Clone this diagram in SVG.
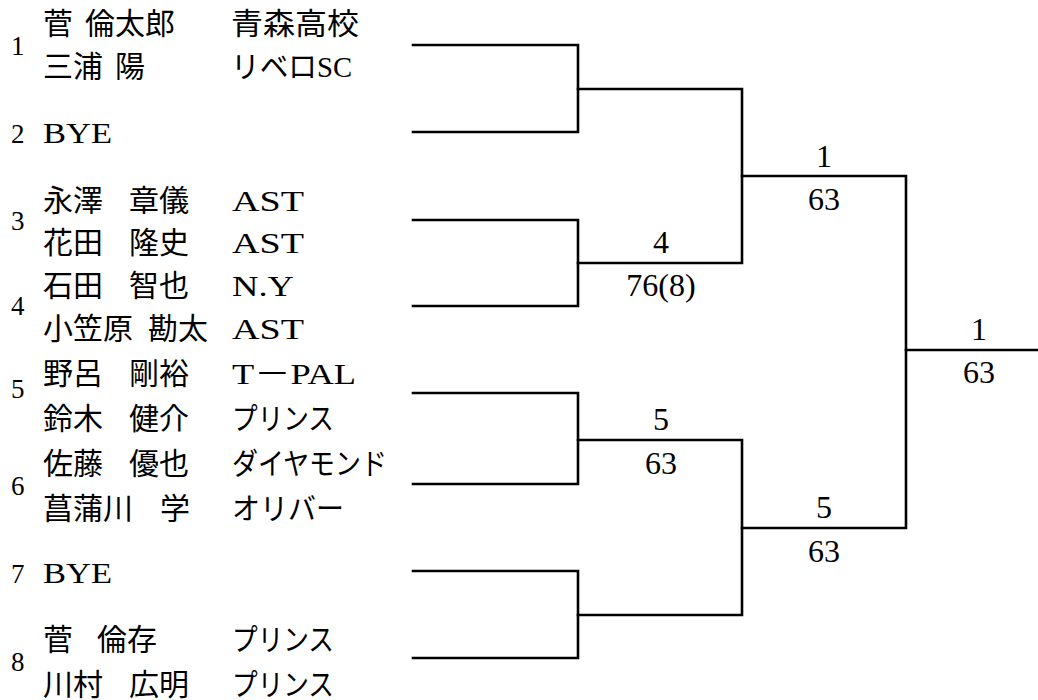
<svg xmlns="http://www.w3.org/2000/svg" width="1038" height="700" viewBox="0 0 1038 700">
<style>
text{font-family:"Liberation Serif","Noto Sans CJK JP",serif;fill:#000}
.n{font-size:27px}
.j{font-size:30px}
.s{font-size:32px;text-anchor:middle}
.c{fill:none;stroke:#000;stroke-width:2.6;stroke-linecap:square}
</style>
<rect width="1038" height="700" fill="#fff"/>
<g id="connectors" class="c">
<path d="M413 45H578V132H413"/>
<path d="M413 220H578V306H413"/>
<path d="M413 393H578V484H413"/>
<path d="M413 571H578V658H413"/>
<path d="M578 89H742V263H578"/>
<path d="M578 440H742V615H578"/>
<path d="M742 176H906V528H742"/>
<path d="M906 350H1038"/>
</g>
<g id="entry1">
<text class="n" x="11" y="55">1</text>
<text class="j" x="43" y="34">菅</text><text class="j" x="85" y="34">倫太郎</text><text class="j" x="231" y="34" textLength="128" lengthAdjust="spacingAndGlyphs">青森高校</text>
<text class="j" x="43" y="77">三浦</text><text class="j" x="115" y="77">陽</text><text class="j" x="231" y="77" textLength="121" lengthAdjust="spacingAndGlyphs">リベロSC</text>
</g>
<g id="entry2">
<text class="n" x="11" y="143">2</text>
<text class="j" x="43" y="143" textLength="69" lengthAdjust="spacingAndGlyphs">BYE</text>
</g>
<g id="entry3">
<text class="n" x="11" y="230">3</text>
<text class="j" x="43" y="211">永澤</text><text class="j" x="129" y="211">章儀</text><text class="j" x="232" y="211" textLength="72" lengthAdjust="spacingAndGlyphs">AST</text>
<text class="j" x="43" y="253">花田</text><text class="j" x="129" y="253">隆史</text><text class="j" x="232" y="253" textLength="72" lengthAdjust="spacingAndGlyphs">AST</text>
</g>
<g id="entry4">
<text class="n" x="11" y="315">4</text>
<text class="j" x="43" y="296">石田</text><text class="j" x="129" y="296">智也</text><text class="j" x="232" y="296" textLength="62" lengthAdjust="spacingAndGlyphs">N.Y</text>
<text class="j" x="43" y="339">小笠原</text><text class="j" x="148" y="339">勘太</text><text class="j" x="232" y="339" textLength="72" lengthAdjust="spacingAndGlyphs">AST</text>
</g>
<g id="entry5">
<text class="n" x="11" y="398">5</text>
<text class="j" x="43" y="384">野呂</text><text class="j" x="129" y="384">剛裕</text><text class="j" x="232" y="384" textLength="124" lengthAdjust="spacingAndGlyphs">T－PAL</text>
<text class="j" x="43" y="429">鈴木</text><text class="j" x="129" y="429">健介</text><text class="j" x="232" y="429" textLength="102" lengthAdjust="spacingAndGlyphs">プリンス</text>
</g>
<g id="entry6">
<text class="n" x="11" y="495">6</text>
<text class="j" x="43" y="474">佐藤</text><text class="j" x="129" y="474">優也</text><text class="j" x="232" y="474" textLength="155" lengthAdjust="spacingAndGlyphs">ダイヤモンド</text>
<text class="j" x="43" y="519">菖蒲川</text><text class="j" x="160" y="519">学</text><text class="j" x="232" y="519" textLength="112" lengthAdjust="spacingAndGlyphs">オリバー</text>
</g>
<g id="entry7">
<text class="n" x="11" y="583">7</text>
<text class="j" x="43" y="583" textLength="69" lengthAdjust="spacingAndGlyphs">BYE</text>
</g>
<g id="entry8">
<text class="n" x="11" y="671">8</text>
<text class="j" x="43" y="650">菅</text><text class="j" x="97" y="650">倫存</text><text class="j" x="232" y="650" textLength="102" lengthAdjust="spacingAndGlyphs">プリンス</text>
<text class="j" x="43" y="695">川村</text><text class="j" x="129" y="695">広明</text><text class="j" x="232" y="695" textLength="102" lengthAdjust="spacingAndGlyphs">プリンス</text>
</g>
<g id="match-r2a">
<text class="s" x="661" y="253">4</text>
<text class="s" x="661" y="296">76(8)</text>
</g>
<g id="match-r2b">
<text class="s" x="661" y="430">5</text>
<text class="s" x="661" y="474">63</text>
</g>
<g id="match-r3a">
<text class="s" x="824" y="167">1</text>
<text class="s" x="824" y="210">63</text>
</g>
<g id="match-r3b">
<text class="s" x="824" y="518">5</text>
<text class="s" x="824" y="562">63</text>
</g>
<g id="match-final">
<text class="s" x="979" y="340">1</text>
<text class="s" x="979" y="383">63</text>
</g>
</svg>
